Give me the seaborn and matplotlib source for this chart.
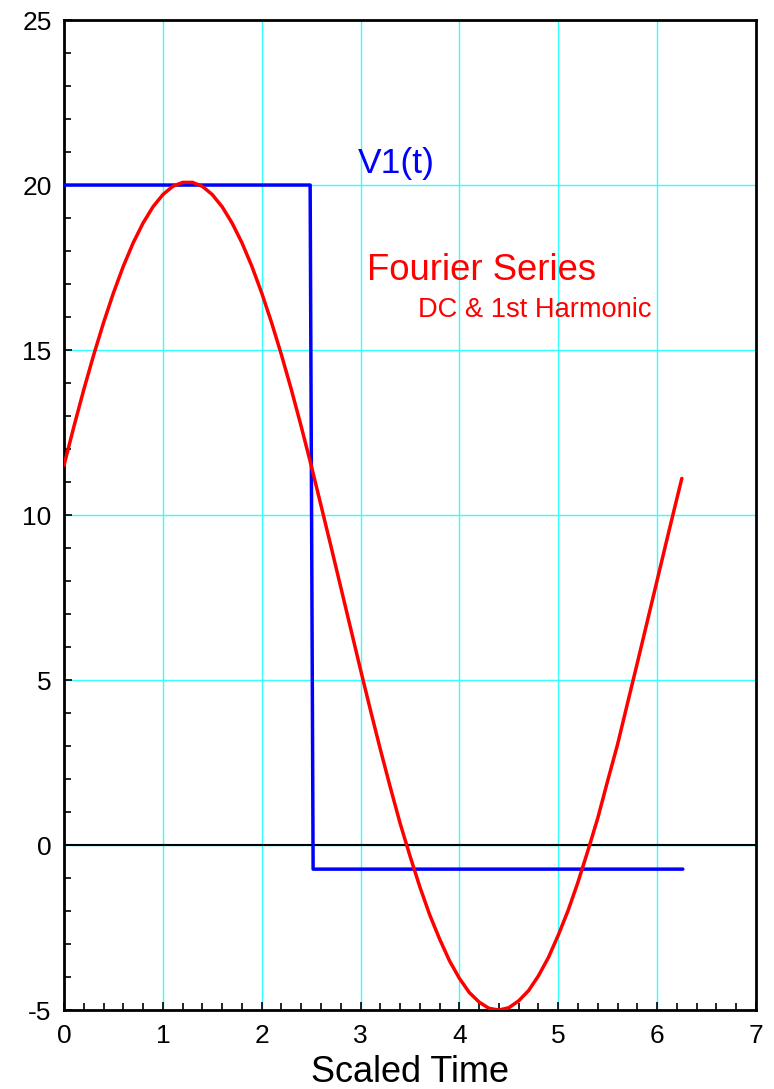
import pandas as pd
import seaborn as sns
from matplotlib import pyplot as plt
from matplotlib.ticker import MultipleLocator

# square wave V1(t)
t_square = [0.0, 2.49, 2.52, 6.26]
v_square = [20.0, 20.0, -0.73, -0.73]

# Fourier series (DC + 1st harmonic), every 0.1
t_fourier = [0.0, 0.1, 0.2, 0.3, 0.4, 0.5, 0.6, 0.7, 0.8, 0.9,
             1.0, 1.1, 1.2, 1.3, 1.4, 1.5, 1.6, 1.7, 1.8, 1.9,
             2.0, 2.1, 2.2, 2.3, 2.4, 2.5, 2.6, 2.7, 2.8, 2.9,
             3.0, 3.1, 3.2, 3.3, 3.4, 3.5, 3.6, 3.7, 3.8, 3.9,
             4.0, 4.1, 4.2, 4.3, 4.4, 4.5, 4.6, 4.7, 4.8, 4.9,
             5.0, 5.1, 5.2, 5.3, 5.4, 5.5, 5.6, 5.7, 5.8, 5.9,
             6.0, 6.1, 6.2, 6.25]
v_fourier = [11.51, 12.68, 13.80, 14.85, 15.83, 16.73, 17.54, 18.25, 18.85, 19.34,
             19.71, 19.96, 20.08, 20.08, 19.96, 19.71, 19.34, 18.85, 18.25, 17.54,
             16.73, 15.83, 14.85, 13.80, 12.68, 11.51, 10.29, 9.06, 7.81, 6.56,
             5.31, 4.09, 2.90, 1.76, 0.66, -0.33, -1.27, -2.12, -2.85, -3.51,
             -4.04, -4.47, -4.76, -4.95, -5.00, -4.93, -4.72, -4.41, -3.96, -3.41,
             -2.73, -1.98, -1.12, -0.17, 0.82, 1.95, 3.05, 4.29, 5.52, 6.77,
             8.02, 9.27, 10.50, 11.11]

df_sq = pd.DataFrame({'t': t_square, 'v': v_square})
df_fs = pd.DataFrame({'t': t_fourier, 'v': v_fourier})

sns.set_style("white")
plt.rcParams['font.family'] = ['Liberation Sans', 'DejaVu Sans']
plt.rcParams['axes.unicode_minus'] = False
plt.rcParams['text.color'] = 'black'
plt.rcParams['axes.labelcolor'] = 'black'
plt.rcParams['xtick.color'] = 'black'
plt.rcParams['ytick.color'] = 'black'

fig, ax = plt.subplots(figsize=(7.74, 10.89), dpi=100)
fig.subplots_adjust(left=0.0827, right=0.9767, top=0.9816, bottom=0.0725)

ax.axhline(0, color='black', lw=1.5, zorder=2)
sns.lineplot(data=df_sq, x='t', y='v', ax=ax, color='#0000ff', lw=2.5,
             sort=False, estimator=None, zorder=3)
sns.lineplot(data=df_fs, x='t', y='v', ax=ax, color='#ff0000', lw=2.5,
             sort=False, estimator=None, zorder=4)

ax.set_xlim(0, 7)
ax.set_ylim(-5, 25)
ax.xaxis.set_major_locator(MultipleLocator(1))
ax.xaxis.set_minor_locator(MultipleLocator(0.2))
ax.yaxis.set_major_locator(MultipleLocator(5))
ax.yaxis.set_minor_locator(MultipleLocator(1))
ax.grid(True, which='major', color='#33ffff', lw=1.0, zorder=1)
ax.set_axisbelow(True)

ax.tick_params(which='both', direction='in', bottom=True, left=True,
               top=False, right=False, color='black', width=1.2,
               labelsize=19, labelcolor='black')
ax.tick_params(axis='x', which='both', pad=10)
ax.tick_params(axis='y', which='both', pad=9)
ax.tick_params(which='major', length=6)
ax.tick_params(which='minor', length=5)
for s in ax.spines.values():
    s.set_linewidth(2.0)
    s.set_color('black')

ax.set_xlabel('Scaled Time', fontsize=26, labelpad=5, color='black')
ax.set_ylabel('')

ax.text(2.97, 20.36, 'V1(t)', color='#0000ff', fontsize=25.5, va='baseline')
ax.text(3.065, 17.12, 'Fourier Series', color='#ff0000', fontsize=26.3, va='baseline')
ax.text(3.58, 16.0, 'DC & 1st Harmonic', color='#ff0000', fontsize=19.6, va='baseline')

plt.savefig('out.png', dpi=100)
